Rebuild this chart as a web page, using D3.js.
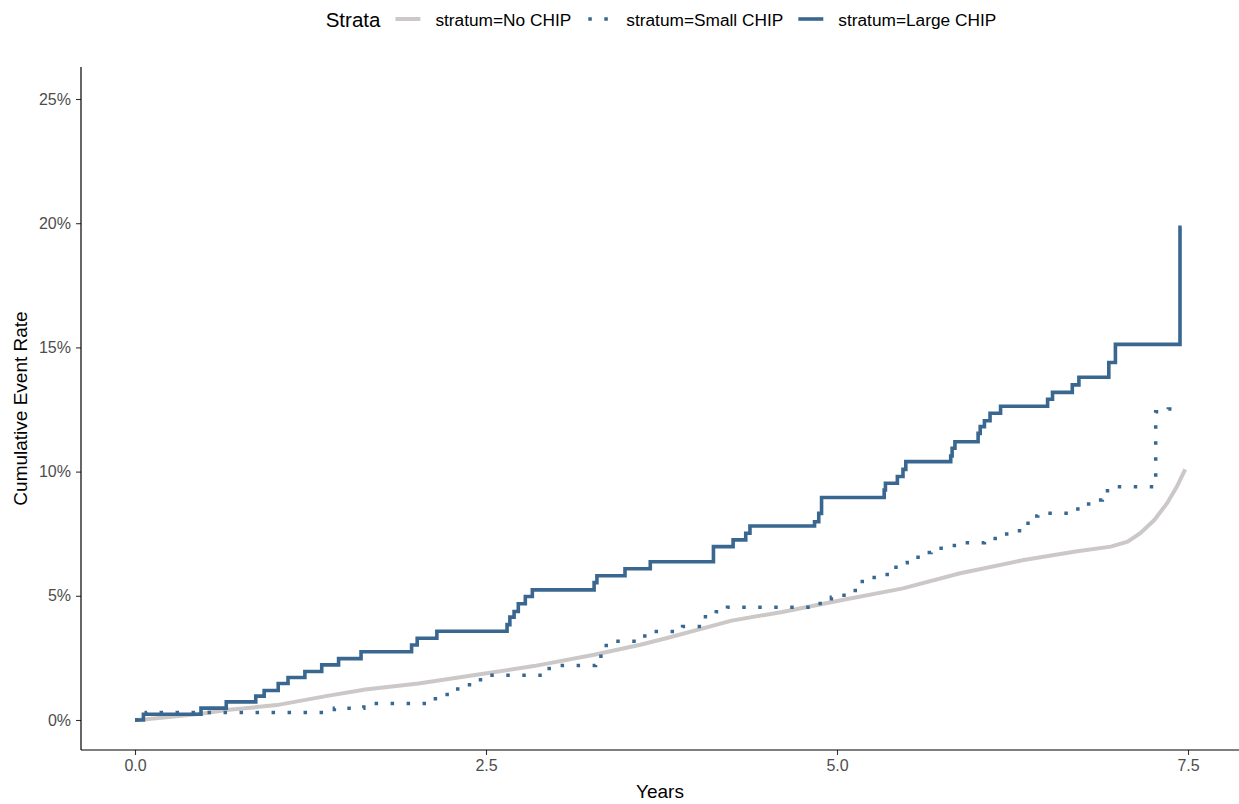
<!DOCTYPE html>
<html>
<head>
<meta charset="utf-8">
<script src="https://d3js.org/d3.v7.min.js"></script>
<style>
  body { margin: 0; background: #fff; }
  text { font-family: "Liberation Sans", Arial, Helvetica, sans-serif; }
</style>
</head>
<body>
<div id="chart"></div>
<script>
// strata and colours
const strata = ["stratum=No CHIP", "stratum=Small CHIP", "stratum=Large CHIP"];
const strataColor = ["#ccc8c8", "#3a6790", "#3a6790"];

// No CHIP curve (years, cumulative %)
const noChipT = [0, 0.08, 0.47, 0.65, 1.01, 1.36, 1.64, 2.02, 2.41, 2.84, 3.27, 3.60, 3.79, 4.25, 4.61, 5.01, 5.47, 5.87, 6.33, 6.70, 6.95, 7.07, 7.16, 7.26, 7.35, 7.42, 7.48];
const noChipV = [0, 0.03, 0.25, 0.40, 0.60, 0.96, 1.23, 1.47, 1.80, 2.17, 2.63, 3.03, 3.30, 4.00, 4.35, 4.80, 5.30, 5.90, 6.44, 6.78, 6.98, 7.18, 7.52, 8.05, 8.72, 9.39, 10.09];

// Small CHIP steps
const smallT = [0, 0.08, 1.42, 1.63, 2.06, 2.16, 2.24, 2.32, 2.42, 2.50, 2.95, 3.28, 3.34, 3.40, 3.60, 3.70, 3.90, 4.04, 4.14, 4.22, 4.88, 4.96, 5.05, 5.13, 5.18, 5.28, 5.37, 5.42, 5.50, 5.59, 5.67, 5.78, 5.86, 6.05, 6.14, 6.30, 6.38, 6.43, 6.66, 6.75, 6.84, 6.89, 6.95, 7.27, 7.36, 7.40];
const smallV = [0, 0.30, 0.47, 0.66, 0.86, 1.03, 1.25, 1.42, 1.62, 1.80, 2.19, 2.57, 3.00, 3.17, 3.38, 3.56, 3.76, 4.16, 4.36, 4.54, 4.80, 4.94, 5.14, 5.34, 5.74, 5.86, 5.97, 6.33, 6.55, 6.74, 6.91, 7.02, 7.14, 7.31, 7.49, 7.92, 8.21, 8.32, 8.49, 8.70, 8.86, 9.23, 9.39, 12.41, 12.52, 12.52];

// Large CHIP steps
const largeT = [0, 0.06, 0.47, 0.65, 0.86, 0.92, 1.02, 1.09, 1.21, 1.33, 1.45, 1.61, 1.97, 2.01, 2.15, 2.65, 2.67, 2.70, 2.73, 2.78, 2.83, 3.27, 3.29, 3.49, 3.67, 4.12, 4.26, 4.35, 4.38, 4.84, 4.87, 4.89, 5.336, 5.345, 5.43, 5.47, 5.49, 5.81, 5.82, 5.84, 6.005, 6.02, 6.05, 6.09, 6.165, 6.50, 6.535, 6.676, 6.723, 6.936, 6.983, 7.443, 7.455];
const largeV = [0, 0.23, 0.48, 0.73, 0.96, 1.19, 1.47, 1.71, 1.95, 2.22, 2.47, 2.75, 3.02, 3.29, 3.57, 3.84, 4.14, 4.37, 4.68, 4.97, 5.24, 5.53, 5.81, 6.09, 6.37, 6.98, 7.25, 7.52, 7.81, 7.98, 8.32, 8.96, 9.26, 9.53, 9.80, 10.09, 10.40, 10.63, 10.94, 11.20, 11.54, 11.81, 12.05, 12.35, 12.63, 12.91, 13.19, 13.49, 13.80, 14.39, 15.12, 19.83, 19.83];

// ticks
const xTicks = [0, 2.5, 5, 7.5];
const yTicks = [0, 5, 10, 15, 20, 25];

const width = 1239, height = 804;
const panel = { left: 81, right: 1239, top: 67, bottom: 750 };

const svg = d3.select("#chart").append("svg")
  .attr("width", width)
  .attr("height", height);

const x = d3.scaleLinear().domain([0, 7.5]).range([135, 1188]);
const y = d3.scaleLinear().domain([0, 25]).range([720, 99]);

// axes
const xAxis = svg.append("g")
  .attr("transform", `translate(0,${panel.bottom})`)
  .call(d3.axisBottom(x).tickValues(xTicks).tickFormat(d3.format(".1f")).tickSize(5).tickPadding(5));
const yAxis = svg.append("g")
  .attr("transform", `translate(${panel.left},0)`)
  .call(d3.axisLeft(y).tickValues(yTicks).tickFormat(d => d + "%").tickSize(5).tickPadding(5));

[xAxis, yAxis].forEach(a => {
  a.select(".domain").remove();
  a.selectAll(".tick line").attr("stroke", "#333").attr("stroke-width", 1.1);
  a.selectAll(".tick text").attr("fill", "#4d4d4d").style("font-size", "16px");
});

svg.append("line")
  .attr("x1", panel.left).attr("x2", panel.right)
  .attr("y1", panel.bottom).attr("y2", panel.bottom)
  .attr("stroke", "#000").attr("stroke-width", 1.2);
svg.append("line")
  .attr("x1", panel.left).attr("x2", panel.left)
  .attr("y1", panel.top).attr("y2", panel.bottom)
  .attr("stroke", "#000").attr("stroke-width", 1.2);

// axis titles
svg.append("text")
  .attr("x", (panel.left + panel.right) / 2).attr("y", 798)
  .attr("text-anchor", "middle").style("font-size", "19px")
  .text("Years");
svg.append("text")
  .attr("transform", `translate(27,${(panel.top + panel.bottom) / 2}) rotate(-90)`)
  .attr("text-anchor", "middle").style("font-size", "19px")
  .text("Cumulative Event Rate");

// curves
const toPts = (ts, vs) => ts.map((t, i) => [t, vs[i]]);
const linear = d3.line().x(d => x(d[0])).y(d => y(d[1]));
const step = d3.line().x(d => x(d[0])).y(d => y(d[1])).curve(d3.curveStepAfter);

svg.append("path")
  .attr("d", linear(toPts(noChipT, noChipV)))
  .attr("fill", "none").attr("stroke", strataColor[0]).attr("stroke-width", 4);

svg.append("path")
  .attr("d", step(toPts(smallT, smallV)))
  .attr("fill", "none").attr("stroke", strataColor[1]).attr("stroke-width", 3.5)
  .attr("stroke-dasharray", "3.5,12.5");

svg.append("path")
  .attr("d", step(toPts(largeT, largeV)))
  .attr("fill", "none").attr("stroke", strataColor[2]).attr("stroke-width", 3.6);

// legend
const legend = svg.append("g");
const title = legend.append("text").attr("x", 0).attr("y", 27)
  .style("font-size", "20.5px").text("Strata");
let cx = title.node().getComputedTextLength() + 15;
strata.forEach((s, i) => {
  const key = legend.append("line")
    .attr("x1", cx).attr("x2", cx + 25).attr("y1", 19).attr("y2", 19)
    .attr("stroke", strataColor[i]).attr("stroke-width", i === 0 ? 4 : 3.6);
  if (i === 1) key.attr("stroke-dasharray", "3.5,12.5").attr("x1", cx + 2);
  cx += 25 + 15;
  const t = legend.append("text").attr("x", cx).attr("y", 26)
    .style("font-size", "17.3px").text(s);
  cx += t.node().getComputedTextLength() + 15;
});
const legendW = cx - 15;
legend.attr("transform", `translate(${661 - legendW / 2},0)`);
</script>
</body>
</html>
